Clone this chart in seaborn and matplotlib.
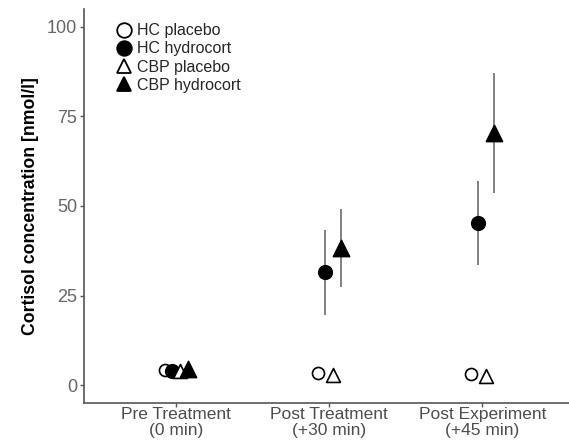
import numpy as np
import pandas as pd
import seaborn as sns
from matplotlib import pyplot as plt
from matplotlib.lines import Line2D

# data
timepoints = ["Pre Treatment\n(0 min)", "Post Treatment\n(+30 min)", "Post Experiment\n(+45 min)"]
groups = ["HC placebo", "HC hydrocort", "CBP placebo", "CBP hydrocort"]
hc_placebo = [4.2, 3.4, 3.0]
hc_hydrocort = [4.0, 31.5, 45.2]
cbp_placebo = [4.0, 2.8, 2.5]
cbp_hydrocort = [4.4, 38.3, 70.3]
hc_hydrocort_err = [0.4, 11.8, 11.8]
cbp_hydrocort_err = [0.4, 10.9, 16.8]

means = {"HC placebo": hc_placebo, "HC hydrocort": hc_hydrocort,
         "CBP placebo": cbp_placebo, "CBP hydrocort": cbp_hydrocort}
errs = {"HC hydrocort": hc_hydrocort_err, "CBP hydrocort": cbp_hydrocort_err}

rows = []
for gi, g in enumerate(groups):
    for ti, t in enumerate(timepoints):
        rows.append({"group": g, "time": ti, "pos": ti + (gi - 1.5) * 0.05,
                     "value": means[g][ti], "err": errs.get(g, [0, 0, 0])[ti]})
df = pd.DataFrame(rows)

sns.set_theme(style="white")
plt.rcParams["font.family"] = ["Liberation Sans", "DejaVu Sans"]

fig = plt.figure(figsize=(5.69, 4.43), dpi=100)
ax = fig.add_axes([0.148, 0.09, 0.861, 0.89])

# error bars for the hydrocortisone groups
for g in errs:
    sub = df[df.group == g]
    ax.errorbar(sub.pos, sub.value, yerr=sub.err, fmt="none", ecolor="#777777",
                elinewidth=1.3, capsize=0, zorder=1)

styles = {"HC placebo": ("o", "white", 75),
          "HC hydrocort": ("o", "black", 95),
          "CBP placebo": ("^", "white", 100),
          "CBP hydrocort": ("^", "black", 135)}
for g in groups:
    m, fc, s = styles[g]
    sns.scatterplot(data=df[df.group == g], x="pos", y="value", marker=m, s=s,
                    color=fc, edgecolor="black", linewidth=1.2, ax=ax, zorder=3,
                    legend=False)

ax.set_xlim(-0.6, 2.6)
ax.set_ylim(-5, 105)
ax.set_xticks(range(len(timepoints)))
ax.set_xticklabels(timepoints, fontsize=12.5, linespacing=1.05)
ax.set_yticks([0, 25, 50, 75, 100])
ax.tick_params(axis="both", colors="#555555", length=3, width=1,
               bottom=True, left=True, pad=2)
ax.tick_params(axis="x", pad=0)
ax.tick_params(axis="y", labelsize=13)
ax.tick_params(axis="x", labelcolor="#4d4d4d")
ax.tick_params(axis="y", labelcolor="#666666")
for side in ["top", "right"]:
    ax.spines[side].set_visible(False)
for side in ["left", "bottom"]:
    ax.spines[side].set_color("#555555")
    ax.spines[side].set_linewidth(1.2)
ax.set_xlabel("")
ax.set_ylabel("Cortisol concentration [nmol/l]", fontsize=12.7, fontweight="bold",
              color="black", labelpad=6)

handles = [Line2D([], [], ls="none", marker=styles[g][0], markersize=10.5,
                  markerfacecolor=styles[g][1], markeredgecolor="black",
                  markeredgewidth=1.3) for g in groups]
ax.legend(handles, groups, loc="upper left", bbox_to_anchor=(0.052, 0.98),
          frameon=False, fontsize=11.5, handletextpad=0.3, labelspacing=0.2,
          borderaxespad=0, handlelength=1.0)

fig.savefig("out.png", dpi=100)
